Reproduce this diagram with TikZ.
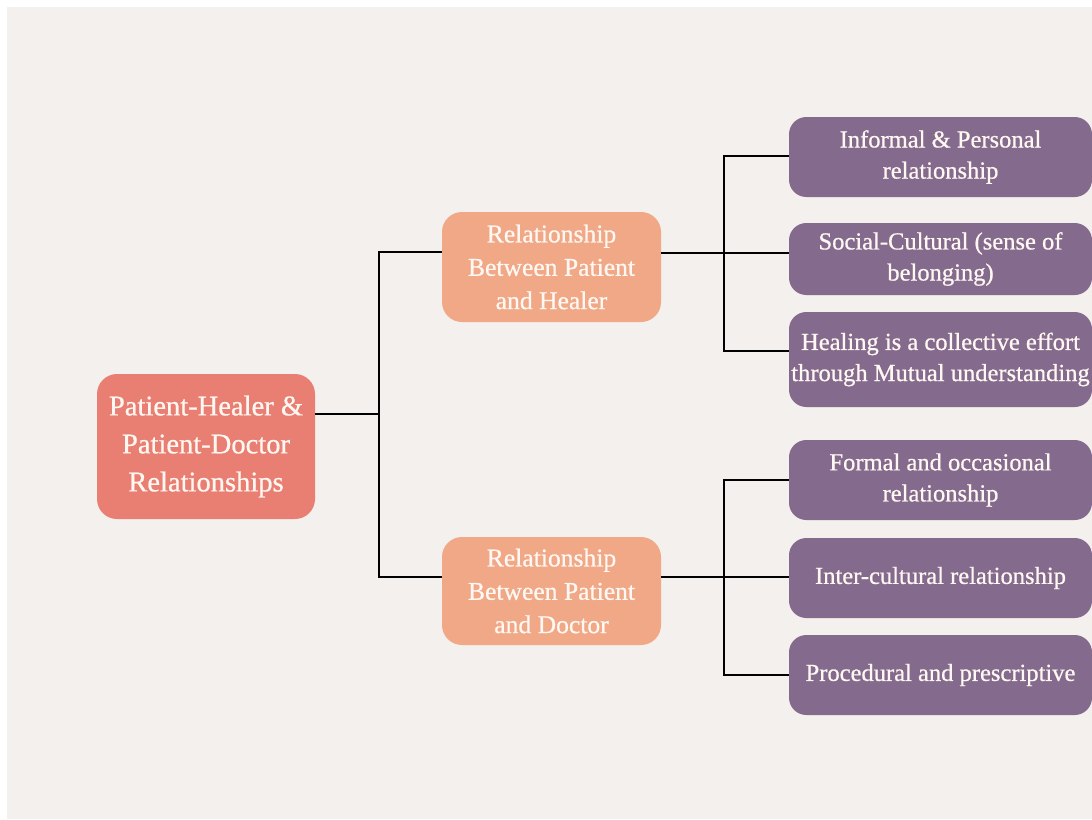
\documentclass[tikz,border=0pt]{standalone}
\usepackage{fontspec}
\setmainfont{Liberation Serif}
\newfontfamily\labelfont{Liberation Serif}[FakeBold=0.7]
\definecolor{pagebg}{RGB}{244,240,237}
\definecolor{rootc}{RGB}{232,127,114}
\definecolor{midc}{RGB}{240,168,135}
\definecolor{leafc}{RGB}{132,106,140}
\definecolor{txtc}{RGB}{255,247,242}
\begin{document}
\begin{tikzpicture}[x=0.75pt,y=-0.75pt,
  box/.style={rounded corners=15pt, inner sep=0pt, align=center, text=txtc},
  rootbox/.style={box, fill=rootc, minimum width=163.5pt, minimum height=108.75pt,
    font=\labelfont\fontsize{21.4}{28.5}\selectfont},
  midbox/.style={box, fill=midc, minimum width=164.25pt,
    font=\labelfont\fontsize{19.2}{25}\selectfont},
  leafbox/.style={box, rounded corners=13pt, fill=leafc, minimum width=227.25pt,
    font=\labelfont\fontsize{18.4}{23.3}\selectfont},
  link/.style={line width=1.5pt, black}]
% canvas
\fill[white] (0,0) rectangle (1092,819);
\fill[pagebg] (7,7) rectangle (1092,819);
\useasboundingbox (0,0) rectangle (1092,819);

% root
\node[rootbox] (root) at (206,446.5) {Patient-Healer \&\\Patient-Doctor\\Relationships};

% second level
\node[midbox, minimum height=82.5pt] (healer) at (551.5,267) {Relationship\\Between Patient\\and Healer};
\node[midbox, minimum height=81pt] (doctor) at (551.5,591) {Relationship\\Between Patient\\and Doctor};

% leaves
\node[leafbox, minimum height=60pt] (l1) at (940.5,157) {Informal \& Personal\\relationship};
\node[leafbox, minimum height=54pt] (l2) at (940.5,259) {Social-Cultural (sense of\\belonging)};
\node[leafbox, minimum height=71.25pt] (l3) at (940.5,359.5) {Healing is a collective effort\\through Mutual understanding};
\node[leafbox, minimum height=60pt] (l4) at (940.5,480) {Formal and occasional\\relationship};
\node[leafbox, minimum height=60pt] (l5) at (940.5,578) {Inter-cultural relationship};
\node[leafbox, minimum height=60pt] (l6) at (940.5,675) {Procedural and prescriptive};

% junction points
\coordinate (ja) at (379,414);
\coordinate (jat) at (379,252);
\coordinate (jab) at (379,577);
\coordinate (jb) at (724,253);
\coordinate (jbt) at (724,156);
\coordinate (jbb) at (724,351);
\coordinate (jc) at (724,577);
\coordinate (jct) at (724,480);
\coordinate (jcb) at (724,675);

% root to second level
\draw[link] (root.east |- ja) -- (ja);
\draw[link] (jat -| healer.west) -- (jat) -- (jab) -- (jab -| doctor.west);

% healer branch
\draw[link] (jb -| healer.east) -- (jb -| l2.west);
\draw[link] (jbt -| l1.west) -- (jbt) -- (jbb) -- (jbb -| l3.west);

% doctor branch
\draw[link] (jc -| doctor.east) -- (jc -| l5.west);
\draw[link] (jct -| l4.west) -- (jct) -- (jcb) -- (jcb -| l6.west);
\end{tikzpicture}
\end{document}
